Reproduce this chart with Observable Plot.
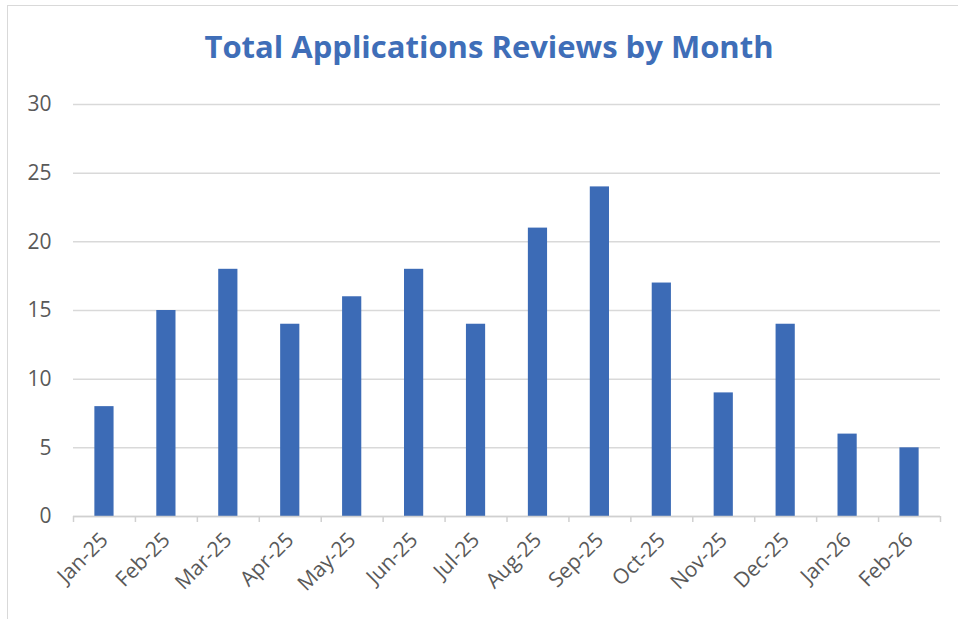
<!DOCTYPE html>
<html>
<head>
<meta charset="utf-8">
<script src="https://cdn.jsdelivr.net/npm/d3@7"></script>
<script src="https://cdn.jsdelivr.net/npm/@observablehq/plot@0.6"></script>
<style>
  html, body { margin: 0; padding: 0; background: #fff; width: 958px; height: 619px; overflow: hidden; }
  #wrap { position: relative; width: 958px; height: 619px; }
  #frame { position: absolute; left: 7px; top: 5px; width: 980px; height: 640px; border: 1.5px solid #d9d9d9; box-sizing: border-box; }
  #title { position: absolute; left: 489px; top: 25px; transform: translateX(-50%); white-space: nowrap;
           font-family: "Open Sans", sans-serif; font-weight: 700; font-size: 31px; color: #3F6EB8; }
  #chart { position: absolute; left: 0; top: 0; }
</style>
</head>
<body>
<div id="wrap">
  <div id="frame"></div>
  <div id="chart"></div>
  <div id="title">Total Applications Reviews by Month</div>
</div>
<script>
const months = ["Jan-25","Feb-25","Mar-25","Apr-25","May-25","Jun-25","Jul-25","Aug-25","Sep-25","Oct-25","Nov-25","Dec-25","Jan-26","Feb-26"];
const reviews = [8,15,18,14,16,18,14,21,24,17,9,14,6,5];
const yTicks = [0,5,10,15,20,25,30];

const data = months.map((m, i) => ({month: m, value: reviews[i]}));

const W = 958, H = 619, mL = 73, mR = 18, mT = 104, mB = 103;
const step = (W - mL - mR) / months.length;

const chart = Plot.plot({
  width: W,
  height: H,
  marginLeft: mL,
  marginRight: mR,
  marginTop: mT,
  marginBottom: mB,
  style: {fontFamily: "'Open Sans', sans-serif", fontSize: "21px", color: "#595959", background: "transparent"},
  x: {domain: months, paddingInner: 0.69, paddingOuter: 0.345, round: false, label: null},
  y: {domain: [0, 30], label: null},
  marks: [
    Plot.gridY(yTicks, {stroke: "#d9d9d9", strokeOpacity: 1, strokeWidth: 1.5}),
    Plot.barY(data, {x: "month", y: "value", fill: "#3C6BB6"}),
    Plot.ruleY([0], {stroke: "#d0d0d0", strokeWidth: 1.5}),
    Plot.ruleX(months, {x: d => d, dx: -step / 2, stroke: "#d0d0d0", strokeWidth: 1.5, insetTop: H - mT - mB, insetBottom: -6}),
    Plot.ruleX([months[months.length - 1]], {x: d => d, dx: step / 2, stroke: "#d0d0d0", strokeWidth: 1.5, insetTop: H - mT - mB, insetBottom: -6}),
    Plot.axisY(yTicks, {tickSize: 0, tickPadding: 22, fill: "#595959", fontSize: 21}),
    Plot.axisX({tickSize: 0, tickPadding: 20, tickRotate: -45, fill: "#595959", fontSize: 21})
  ]
});
document.getElementById("chart").appendChild(chart);
</script>
</body>
</html>
